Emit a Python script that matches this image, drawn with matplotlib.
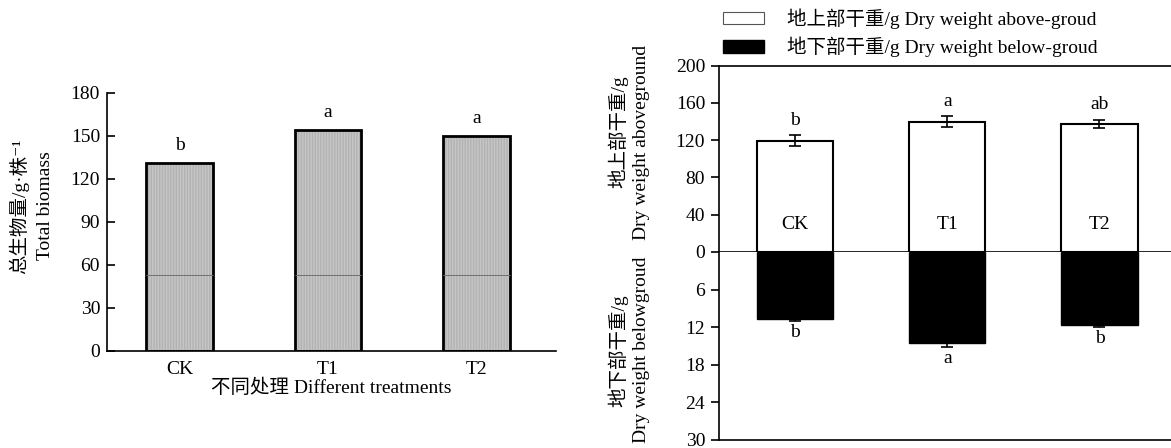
import matplotlib
matplotlib.use("Agg")
import matplotlib.pyplot as plt
from matplotlib.patches import Patch

plt.rcParams["font.family"] = ["Liberation Serif", "Noto Sans CJK SC", "DejaVu Sans"]
plt.rcParams["font.size"] = 14

# Left panel: total biomass
treatments = ["CK", "T1", "T2"]
total_biomass = [131, 154, 150]
total_letters = ["b", "a", "a"]
inner_line = 53  # faint line seen across the bars

# Right panel: above / below ground dry weight
above_weight = [119.5, 140, 137.5]
above_err = [6, 5.5, 4.5]
above_letters = ["b", "a", "ab"]
below_weight = [10.7, 14.6, 11.7]
below_err = [0.35, 0.6, 0.3]
below_letters = ["b", "a", "b"]

FS = 14

fig = plt.figure(figsize=(11.71, 4.48), dpi=100)

# ---- left panel ----
ax = fig.add_axes([0.0914, 0.217, 0.383, 0.576])
x = list(range(len(treatments)))
ax.bar(x, total_biomass, width=0.45, color="#c6c6c6", edgecolor="#b2b2b2",
       hatch="||||||", linewidth=0)
ax.bar(x, total_biomass, width=0.45, fill=False, edgecolor="black", linewidth=2)
for xi in x:
    ax.hlines(inner_line, xi - 0.225, xi + 0.225, color="#707070", linewidth=0.7)
for xi, v, lab in zip(x, total_biomass, total_letters):
    ax.text(xi, v + 6, lab, ha="center", va="bottom", fontsize=FS)
ax.set_xlim(-0.49, 2.535)
ax.set_ylim(0, 180)
ax.set_yticks(range(0, 181, 30))
ax.set_xticks(x)
ax.set_xticklabels(treatments, fontsize=FS)
ax.tick_params(axis="y", direction="in", length=6, width=1.2, pad=5, labelsize=FS)
ax.tick_params(axis="x", length=0, pad=7)
ax.spines["top"].set_visible(False)
ax.spines["right"].set_visible(False)
for s in ["left", "bottom"]:
    ax.spines[s].set_linewidth(1.2)
ax.set_xlabel("不同处理 Different treatments", fontsize=FS, labelpad=1)
fig.text(0.016, 1 - 206 / 448, "总生物量/g·株⁻¹", rotation=90, ha="center", va="center", fontsize=FS)
fig.text(0.039, 1 - 206 / 448, "Total biomass", rotation=90, ha="center", va="center", fontsize=FS)

# ---- right panel ----
ax_up = fig.add_axes([0.614, 0.4375, 0.386, 0.416])
ax_dn = fig.add_axes([0.614, 0.018, 0.386, 0.4195], sharex=ax_up)

ax_up.bar(x, above_weight, width=0.5, color="white", edgecolor="black", linewidth=1.5)
ax_up.errorbar(x, above_weight, yerr=above_err, fmt="none", ecolor="black",
               elinewidth=1.2, capsize=4, capthick=1.2)
for xi, v, e, lab in zip(x, above_weight, above_err, above_letters):
    ax_up.text(xi, v + e + 7, lab, ha="center", va="bottom", fontsize=FS)
for xi, lab in zip(x, treatments):
    ax_up.text(xi, 30, lab, ha="center", va="center", fontsize=FS)
ax_up.set_ylim(0, 200)
ax_up.set_yticks(range(0, 201, 40))
ax_up.set_xlim(-0.5, 2.47)
ax_up.spines["right"].set_visible(False)
ax_up.tick_params(axis="x", bottom=False, labelbottom=False)
ax_up.tick_params(axis="y", direction="out", length=6, width=1.2, pad=4, labelsize=FS)
for s in ["left", "bottom", "top"]:
    ax_up.spines[s].set_linewidth(1.2)

ax_dn.bar(x, below_weight, width=0.5, color="black", edgecolor="black", linewidth=1.0)
ax_dn.errorbar(x, below_weight, yerr=[[0] * 3, below_err], fmt="none", ecolor="black",
               elinewidth=1.2, capsize=4, capthick=1.2)
for xi, v, e, lab in zip(x, below_weight, below_err, below_letters):
    ax_dn.text(xi, v + e + 0.5, lab, ha="center", va="top", fontsize=FS)
ax_dn.set_ylim(30, 0)
ax_dn.set_yticks(range(6, 31, 6))
ax_dn.spines["top"].set_visible(False)
ax_dn.spines["right"].set_visible(False)
ax_dn.tick_params(axis="x", bottom=False, labelbottom=False)
ax_dn.tick_params(axis="y", direction="out", length=6, width=1.2, pad=4, labelsize=FS)
for s in ["left", "bottom"]:
    ax_dn.spines[s].set_linewidth(1.2)

# right panel y labels
fig.text(0.528, 1 - 132 / 448, "地上部干重/g", rotation=90, ha="center", va="center", fontsize=FS)
fig.text(0.548, 1 - 142 / 448, "Dry weight aboveground", rotation=90, ha="center", va="center", fontsize=FS)
fig.text(0.528, 1 - 351 / 448, "地下部干重/g", rotation=90, ha="center", va="center", fontsize=FS)
fig.text(0.548, 1 - 350 / 448, "Dry weight belowgroud", rotation=90, ha="center", va="center", fontsize=FS)

handles = [Patch(facecolor="white", edgecolor="#555555", linewidth=0.8),
           Patch(facecolor="black", edgecolor="black")]
fig.legend(handles, ["地上部干重/g Dry weight above-groud", "地下部干重/g Dry weight below-groud"],
           loc="upper left", bbox_to_anchor=(0.614, 0.99), frameon=False, fontsize=FS,
           handlelength=2.1, handleheight=0.6, handletextpad=1.2, labelspacing=0.4,
           borderpad=0.2, borderaxespad=0)

fig.savefig("out.png", dpi=100)
